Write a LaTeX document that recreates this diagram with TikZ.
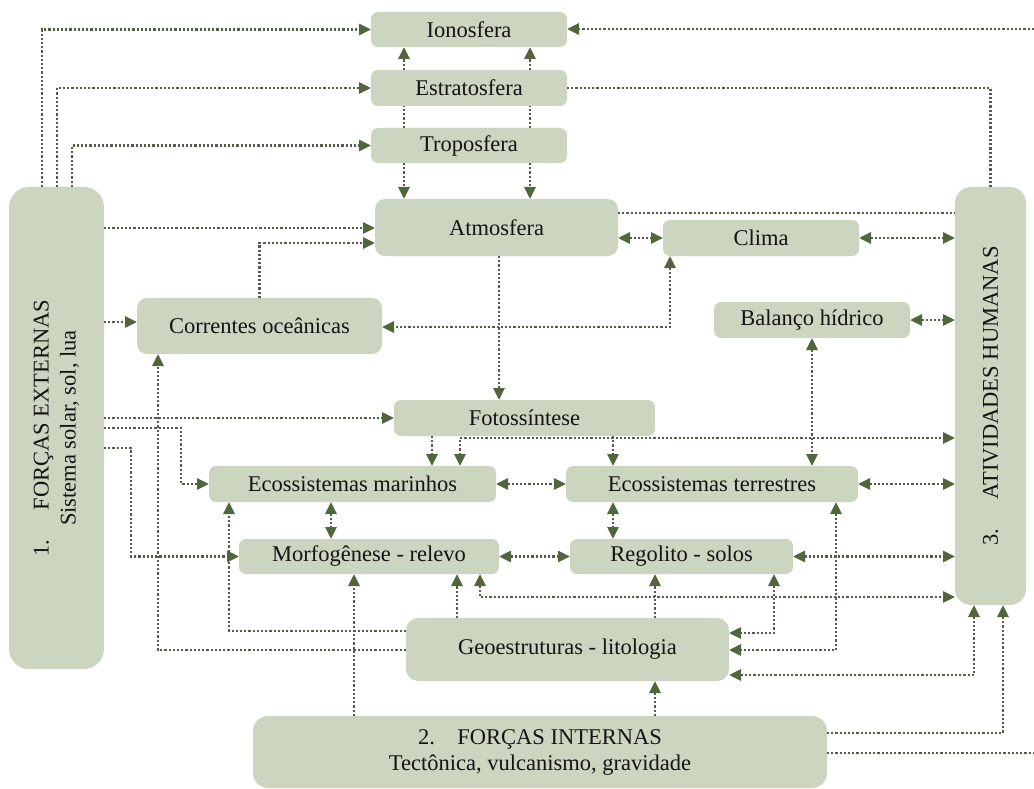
\documentclass[tikz,border=0pt]{standalone}
\usepackage{fontspec}
\setmainfont{Liberation Serif}
\usetikzlibrary{arrows.meta,calc}
\definecolor{boxC}{RGB}{204,213,192}
\definecolor{lineC}{RGB}{84,92,74}
\definecolor{arrowC}{RGB}{82,102,62}
\definecolor{txtC}{RGB}{20,20,20}
\tikzset{
  box/.style={fill=boxC, rounded corners=7pt, inner sep=0pt, outer sep=0pt,
    text=txtC, font=\fontsize{22.5}{27}\selectfont, align=center},
  bigbox/.style={box, rounded corners=20pt},
  con/.style={draw=lineC, line width=2.8pt, dash pattern=on 2.2pt off 2pt},
  tip/.style={con, -{Triangle[length=12pt,width=11pt,color=arrowC]}},
  tips/.style={con, {Triangle[length=12pt,width=11pt,color=arrowC]}-{Triangle[length=12pt,width=11pt,color=arrowC]}}
}
\begin{document}
\begin{tikzpicture}[x=1pt,y=-1pt]
\useasboundingbox (0,0) rectangle (1034,789);
% boxes
\node[box, minimum width=196, minimum height=35] (ion) at (469,29.5) {Ionosfera};
\node[box, minimum width=196, minimum height=36] (est) at (469,88) {Estratosfera};
\node[box, minimum width=196, minimum height=35] (tro) at (469,145.5) {Troposfera};
\node[box, minimum width=243, minimum height=57, rounded corners=10pt] (atm) at (496.5,227.5) {Atmosfera};
\node[box, minimum width=196, minimum height=36] (cli) at (761,238) {Clima};
\node[box, minimum width=196, minimum height=36] (bal) at (812,320) {Balanço hídrico};
\node[box, minimum width=245, minimum height=56, rounded corners=10pt] (cor) at (259.5,326) {Correntes oceânicas};
\node[box, minimum width=261, minimum height=36] (fot) at (524.5,418) {Fotossíntese};
\node[box, minimum width=287, minimum height=36] (mar) at (352.5,484) {Ecossistemas marinhos};
\node[box, minimum width=260, minimum height=35] (mor) at (369,556.5) {Morfogênese - relevo};
\node[box, minimum width=292, minimum height=36] (ter) at (712,484) {Ecossistemas terrestres};
\node[box, minimum width=223, minimum height=35] (reg) at (681.5,556.5) {Regolito - solos};
\node[box, minimum width=323, minimum height=63, rounded corners=12pt] (geo) at (567.5,649.5) {Geoestruturas - litologia};
\node[box, minimum width=574, minimum height=72, rounded corners=15pt] (int) at (540,752)
  {2.\hspace{1em}FORÇAS INTERNAS\\[-1pt]Tectônica, vulcanismo, gravidade};
\node[bigbox, minimum width=95, minimum height=482] (ext) at (56.5,428) {};
\node[text=txtC, font=\fontsize{22.5}{27}\selectfont, align=center, rotate=90] (extt) at (ext.center)
  {1.\hspace{1.3em}FORÇAS EXTERNAS\\Sistema solar, sol, lua};
\node[bigbox, minimum width=71, minimum height=418, rounded corners=16pt] (ati) at (990.5,396) {};
\node[text=txtC, font=\fontsize{22.5}{27}\selectfont, rotate=90] (atit) at (ati.center)
  {3.\hspace{1.3em}ATIVIDADES HUMANAS};
\coordinate (re1) at (1034,29);
\coordinate (re2) at (1034,753);
% top
\draw[tip] (ext.north -| 42,0) |- (ion.west);
\draw[tip] (ext.north -| 57,0) |- (est.west);
\draw[tip] (ext.north -| 72,0) |- (tro.west);
\draw[tip] (est.north -| 404,0) -- (ion.south -| 404,0);
\draw[tip] (est.north -| 530,0) -- (ion.south -| 530,0);
\draw[con] (tro.north -| 404,0) -- (est.south -| 404,0);
\draw[con] (tro.north -| 530,0) -- (est.south -| 530,0);
\draw[tip] (tro.south -| 404,0) -- (atm.north -| 404,0);
\draw[tip] (tro.south -| 530,0) -- (atm.north -| 530,0);
\draw[tip] (re1) -- (re1 -| ion.east);
\draw[con] (est.east) -| (ati.north);
\draw[con] (atm.east |- 0,213) -- (ati.west |- 0,213);
\draw[tips] (atm.east |- cli.west) -- (cli.west);
\draw[tips] (cli.east) -- (ati.west |- cli.east);
\draw[tip] (ext.east |- 0,228) -- (atm.west |- 0,228);
\draw[tip] (cor.north) |- (atm.west |- 0,243);
\draw[tip] (ext.east |- 0,322) -- (cor.west |- 0,322);
\draw[tips] (cli.south -| 670,0) |- (cor.east |- 0,327);
\draw[tip] (atm.south -| 499,0) -- (fot.north -| 499,0);
\draw[tips] (bal.east) -- (ati.west |- bal.east);
\draw[tips] (bal.south) -- (ter.north -| bal.south);
% left side
\draw[tip] (ext.east |- fot.west) -- (fot.west);
\draw[tip] (ext.east |- 0,428) -- (181,428) |- (mar.west);
\draw[tip] (ext.east |- 0,448) -- (131,448) |- (mor.west);
\draw[tip] (geo.west |- 0,650) -| (cor.south -| 158,0);
\draw[tip] (geo.west |- 0,631) -| (mar.south -| 229,0);
% middle
\draw[tip] (fot.south -| 432,0) -- (mar.north -| 432,0);
\draw[tips] (mar.north -| 460,0) |- (ati.west |- 0,438);
\draw[tip] (fot.south -| 613,0) -- (ter.north -| 613,0);
\draw[tips] (mar.east) -- (ter.west);
\draw[tips] (mar.south -| 331,0) -- (mor.north -| 331,0);
\draw[tips] (ter.south -| 613,0) -- (reg.north -| 613,0);
\draw[tips] (mor.east) -- (reg.west);
\draw[tips] (ter.east) -- (ati.west |- ter.east);
\draw[tips] (reg.east) -- (ati.west |- reg.east);
% bottom
\draw[tip] (int.north -| 354,0) -- (mor.south -| 354,0);
\draw[tip] (geo.north -| 457,0) -- (mor.south -| 457,0);
\draw[tips] (mor.south -| 480,0) |- (ati.west |- 0,597);
\draw[tip] (geo.north -| 655,0) -- (reg.south -| 655,0);
\draw[tips] (reg.south -| 774,0) |- (geo.east |- 0,633);
\draw[tips] (ter.south -| 836,0) |- (geo.east |- 0,650);
\draw[tips] (ati.south -| 974,0) |- (geo.east |- 0,675);
\draw[tip] (int.east |- 0,733) -| (ati.south -| 1003,0);
\draw[con] (int.east |- 0,753) -- (re2);
\draw[tip] (int.north -| 655,0) -- (geo.south -| 655,0);
\end{tikzpicture}
\end{document}
